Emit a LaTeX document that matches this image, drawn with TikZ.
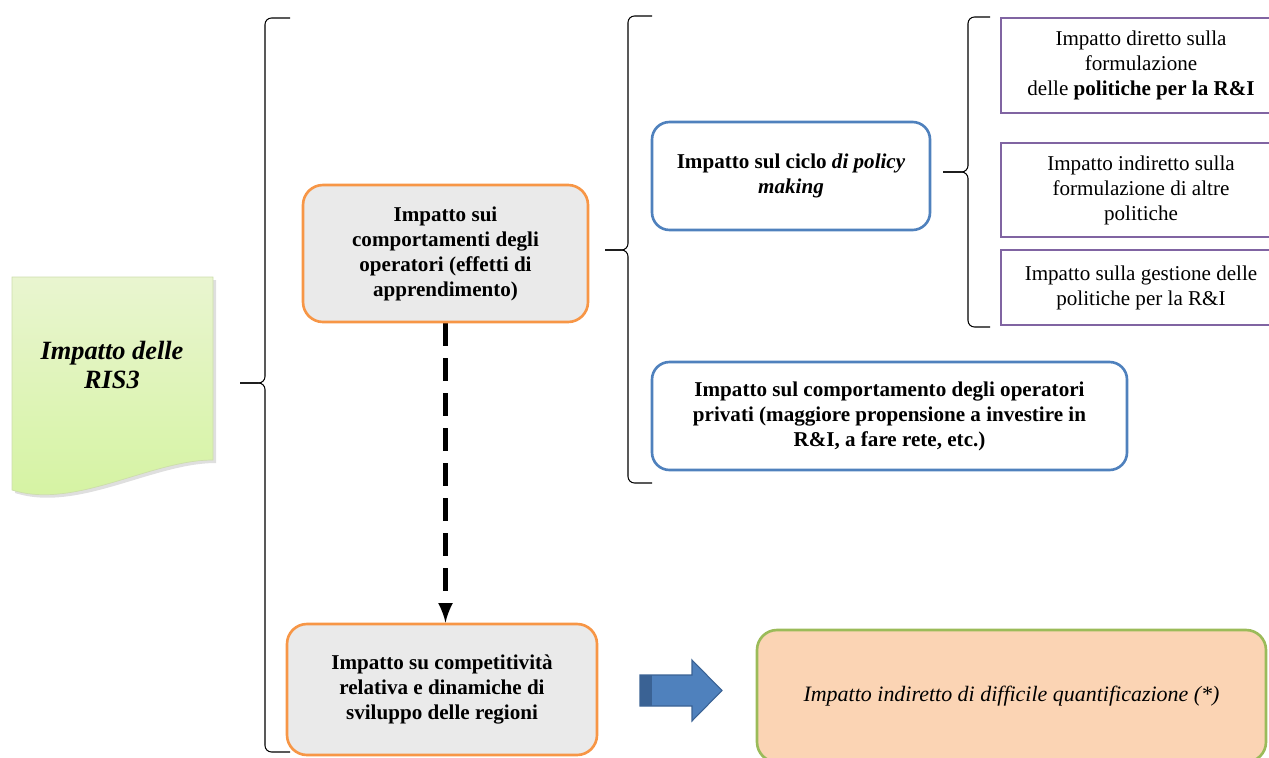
\documentclass[tikz,border=0pt]{standalone}
\usepackage{fontspec}
\setmainfont{Liberation Serif}
\usetikzlibrary{shadows}
\pgfdeclarelayer{edgelayer}
\pgfdeclarelayer{nodelayer}
\pgfsetlayers{edgelayer,nodelayer,main}
\definecolor{orangeline}{HTML}{F79646}
\definecolor{blueline}{HTML}{4F81BD}
\definecolor{purpleline}{HTML}{8064A2}
\definecolor{greenline}{HTML}{9BBB59}
\definecolor{granite}{HTML}{EAEAEA}
\definecolor{peach}{HTML}{FBD4B4}
\definecolor{doctop}{HTML}{E9F5D0}
\definecolor{docbottom}{HTML}{D4F3A0}
\definecolor{arrowdark}{HTML}{3A6294}
\tikzstyle{title}=[align=center,font=\fontsize{15}{16.5}\selectfont\bfseries\itshape]
\tikzstyle{effect}=[rectangle,rounded corners=0.4cm,fill=granite,draw=orangeline,line width=1.5pt,inner sep=0,align=center,font=\fontsize{12}{14.2}\selectfont\bfseries]
\tikzstyle{ciclo}=[rectangle,rounded corners=0.35cm,fill=white,draw=blueline,line width=1.5pt,inner sep=0,align=center,font=\fontsize{12}{14.2}\selectfont\bfseries]
\tikzstyle{policy}=[rectangle,fill=white,draw=purpleline,line width=1.6pt,inner sep=0,align=center,font=\fontsize{12}{14.2}\selectfont]
\tikzstyle{outcome}=[rectangle,rounded corners=0.4cm,fill=peach,draw=greenline,line width=1.5pt,inner sep=0,align=center,font=\fontsize{12.5}{14.2}\selectfont\itshape]
\tikzstyle{brace line}=[draw=black,line width=0.6pt,rounded corners=0.13cm]
\tikzstyle{dashed link}=[-latex,draw=black,line width=2.8pt,dash pattern=on 0.46cm off 0.24cm]
\tikzstyle{block arrow}=[fill=blueline,draw=arrowdark,line width=0.6pt]

\begin{document}
\begin{tikzpicture}
	\useasboundingbox (0,0) rectangle (25.38,-15.16);
	\begin{pgfonlayer}{nodelayer}
		\shade [top color=doctop, bottom color=docbottom, draw=greenline!50, line width=0.4pt, drop shadow={opacity=0.25, shadow xshift=0.06cm, shadow yshift=-0.06cm}] (0.24,-5.54) -- (4.26,-5.54) -- (4.26,-9.2) .. controls (3.0,-9.2) and (1.5,-10.2) .. (0.24,-9.8) -- cycle;
		\node [style=title] (0) at (2.24, -7.3) {Impatto delle\\RIS3};
		\node [style=effect, minimum width=5.7cm, minimum height=2.74cm] (1) at (8.91, -5.07) {Impatto sui\\comportamenti degli\\operatori (effetti di\\apprendimento)};
		\node [style=ciclo, minimum width=5.56cm, minimum height=2.16cm] (2) at (15.82, -3.52) {Impatto sul ciclo \textit{di policy}\\\textit{making}};
		\node [style=policy, minimum width=5.6cm, minimum height=1.9cm] (3) at (22.82, -1.31) {Impatto diretto sulla\\formulazione\\delle \textbf{politiche per la R\&I}};
		\node [style=policy, minimum width=5.6cm, minimum height=1.88cm] (4) at (22.82, -3.8) {Impatto indiretto sulla\\formulazione di altre\\politiche};
		\node [style=policy, minimum width=5.6cm, minimum height=1.5cm] (5) at (22.82, -5.75) {Impatto sulla gestione delle\\politiche per la R\&I};
		\node [style=ciclo, minimum width=9.5cm, minimum height=2.16cm] (6) at (17.79, -8.32) {Impatto sul comportamento degli operatori\\privati (maggiore propensione a investire in\\R\&I, a fare rete, etc.)};
		\node [style=effect, minimum width=6.2cm, minimum height=2.62cm] (7) at (8.84, -13.79) {Impatto su competitività\\relativa e dinamiche di\\sviluppo delle regioni};
		\node [style=outcome, minimum width=10.18cm, minimum height=2.64cm] (8) at (20.23, -13.92) {Impatto indiretto di difficile quantificazione (*)};
	\end{pgfonlayer}
	\begin{pgfonlayer}{edgelayer}
		\draw [style=brace line] (5.8, -0.36) -- (5.3, -0.36) -- (5.3, -7.66) -- (4.8, -7.66);
		\draw [style=brace line] (4.8, -7.66) -- (5.3, -7.66) -- (5.3, -15.04) -- (5.8, -15.04);
		\draw [style=brace line] (13.04, -0.32) -- (12.56, -0.32) -- (12.56, -5.0) -- (12.1, -5.0);
		\draw [style=brace line] (12.1, -5.0) -- (12.56, -5.0) -- (12.56, -9.66) -- (13.04, -9.66);
		\draw [style=brace line] (19.8, -0.34) -- (19.36, -0.34) -- (19.36, -3.44) -- (18.86, -3.44);
		\draw [style=brace line] (18.86, -3.44) -- (19.36, -3.44) -- (19.36, -6.54) -- (19.8, -6.54);
		\draw [style=dashed link] (1.south) to (1.south |- 7.north);
		\draw [style=block arrow] (12.8, -13.5) -- (13.84, -13.5) -- (13.84, -13.2) -- (14.44, -13.81) -- (13.84, -14.42) -- (13.84, -14.12) -- (12.8, -14.12) -- cycle;
		\fill [arrowdark] (12.8, -13.5) rectangle (13.04, -14.12);
	\end{pgfonlayer}
\end{tikzpicture}
\end{document}
